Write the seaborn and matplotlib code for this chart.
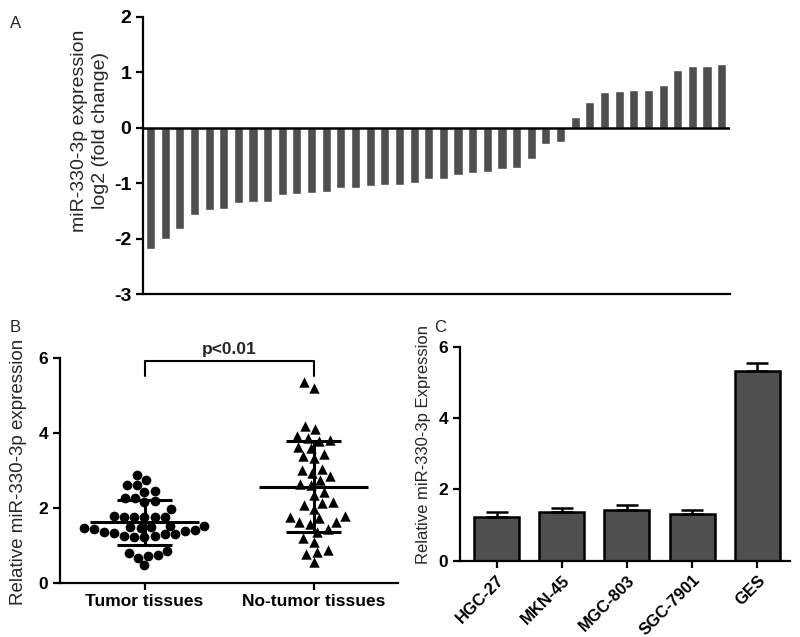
import numpy as np
import pandas as pd
import matplotlib
matplotlib.use("Agg")
import matplotlib.pyplot as plt
import seaborn as sns

# ---------------- data ----------------
# A: log2 fold change of miR-330-3p per sample (sorted)
fold_change = [-2.18, -2.00, -1.82, -1.57, -1.49, -1.46, -1.35, -1.34, -1.34, -1.22,
               -1.20, -1.17, -1.16, -1.09, -1.09, -1.05, -1.04, -1.03, -0.99, -0.92,
               -0.92, -0.86, -0.81, -0.80, -0.75, -0.73, -0.56, -0.30, -0.25, 0.19,
               0.46, 0.64, 0.66, 0.67, 0.67, 0.76, 1.04, 1.11, 1.11, 1.15]

# B: relative expression in tissues
group_names = ["Tumor tissues", "No-tumor tissues"]
tumor = [2.88, 2.61, 2.61, 2.75, 2.43, 2.46, 2.26, 2.15, 2.18, 2.27, 1.97,
         1.78, 1.76, 1.75, 1.77, 1.76, 1.77, 1.52, 1.52,
         1.50, 1.45, 1.41, 1.36, 1.29, 1.25, 1.23, 1.23, 1.26, 1.29, 1.34, 1.38,
         1.43, 1.47, 1.50,
         0.79, 0.72, 0.85, 0.67, 0.74, 0.47]
no_tumor = [5.36, 5.22, 4.20, 4.10, 3.92, 3.83, 3.79, 3.88, 3.64, 3.61, 3.43,
            3.39, 3.34, 3.05, 2.94, 3.02, 2.85, 2.75, 2.64, 2.61, 2.43, 2.34,
            2.17, 2.08, 2.14, 1.96, 1.78, 1.72, 1.61, 1.57, 1.63, 1.75, 1.43,
            1.36, 1.19, 1.10, 0.83, 0.77, 0.87, 0.56]

# C: cell lines
cell_lines = ["HGC-27", "MKN-45", "MGC-803", "SGC-7901", "GES"]
cell_expr = [1.22, 1.36, 1.42, 1.30, 5.33]
cell_err = [0.14, 0.13, 0.13, 0.11, 0.22]

# ---------------- style ----------------
sns.set_theme(style="ticks")
plt.rcParams["font.family"] = ["Liberation Sans", "DejaVu Sans"]
plt.rcParams["axes.linewidth"] = 1.6
plt.rcParams["xtick.major.width"] = 1.6
plt.rcParams["ytick.major.width"] = 1.6
plt.rcParams["xtick.major.size"] = 5
plt.rcParams["ytick.major.size"] = 5
plt.rcParams["xtick.color"] = "black"
plt.rcParams["ytick.color"] = "black"
plt.rcParams["axes.edgecolor"] = "black"

bar_color = "#4f4f4f"

fig = plt.figure(figsize=(8, 6.37), dpi=100)

# ---------------- panel A ----------------
axA = fig.add_axes([0.179, 0.538, 0.734, 0.436])
sns.barplot(x=list(range(len(fold_change))), y=fold_change, color=bar_color,
            saturation=1, width=0.62, ax=axA)
axA.axhline(0, color="black", lw=1.8)
axA.set_xlim(-0.5, 39.6)
axA.set_ylim(-3, 2)
axA.set_yticks([-3, -2, -1, 0, 1, 2])
axA.set_yticklabels(["-3", "-2", "-1", "0", "1", "2"], fontsize=14, fontweight="bold")
axA.set_xticks([])
axA.set_xlabel("")
axA.set_ylabel("miR-330-3p expression\nlog2 (fold change)", fontsize=14,
               linespacing=1.35, fontweight="medium")
axA.yaxis.set_label_coords(-0.058, 0.59)
sns.despine(ax=axA)
fig.text(0.013, 0.975, "A", fontsize=12, va="top")

# ---------------- panel B ----------------
axB = fig.add_axes([0.075, 0.0853, 0.4225, 0.352])
df_b = pd.DataFrame({
    "group": [group_names[0]] * len(tumor) + [group_names[1]] * len(no_tumor),
    "value": tumor + no_tumor,
})
for name, mk, sz in zip(group_names, ["o", "^"], [7, 7.5]):
    sns.swarmplot(data=df_b[df_b["group"] == name], x="group", y="value",
                  order=group_names, marker=mk, color="black", size=sz,
                  linewidth=0, ax=axB)

for i, vals in enumerate([tumor, no_tumor]):
    m = np.mean(vals)
    s = np.std(vals, ddof=1)
    axB.hlines(m, i - 0.32, i + 0.32, color="black", lw=2.2, zorder=5)
    axB.hlines([m - s, m + s], i - 0.165, i + 0.165, color="black", lw=2.2, zorder=5)
    axB.vlines(i, m - s, m + s, color="black", lw=2.2, zorder=5)

axB.plot([0, 0, 1, 1], [5.53, 5.93, 5.93, 5.53], color="black", lw=1.5, clip_on=False)
axB.text(0.5, 6.05, "p<0.01", ha="center", va="bottom", fontsize=12.5,
         fontweight="bold")
axB.set_xlim(-0.5, 1.5)
axB.set_ylim(0, 6)
axB.set_yticks([0, 2, 4, 6])
axB.tick_params(axis="both", labelsize=12.5)
for lab in axB.get_xticklabels() + axB.get_yticklabels():
    lab.set_fontweight("bold")
axB.set_xlabel("")
axB.set_ylabel("Relative miR-330-3p expression", fontsize=13.5)
axB.yaxis.set_label_coords(-0.098, 0.495)
sns.despine(ax=axB)
fig.text(0.012, 0.498, "B", fontsize=12, va="top")

# ---------------- panel C ----------------
axC = fig.add_axes([0.575, 0.1198, 0.4125, 0.336])
sns.barplot(x=cell_lines, y=cell_expr, color=bar_color, saturation=1,
            edgecolor="black", linewidth=1.8, width=0.69, ax=axC)
axC.errorbar(range(len(cell_lines)), cell_expr,
             yerr=[np.zeros(len(cell_err)), cell_err], fmt="none",
             ecolor="black", elinewidth=1.8, capsize=8, capthick=1.8, zorder=1)
axC.set_xlim(-0.56, 4.5)
axC.set_ylim(0, 6)
axC.set_yticks([0, 2, 4, 6])
axC.tick_params(axis="y", labelsize=12.5)
axC.tick_params(axis="x", labelsize=12)
for lab in axC.get_xticklabels():
    lab.set_rotation(45)
    lab.set_ha("right")
    lab.set_rotation_mode("anchor")
for lab in axC.get_xticklabels() + axC.get_yticklabels():
    lab.set_fontweight("bold")
axC.set_xlabel("")
axC.set_ylabel("Relative miR-330-3p Expression", fontsize=12)
axC.yaxis.set_label_coords(-0.088, 0.545)
sns.despine(ax=axC)
fig.text(0.543, 0.498, "C", fontsize=12, va="top")

fig.savefig("out.png", dpi=100)
